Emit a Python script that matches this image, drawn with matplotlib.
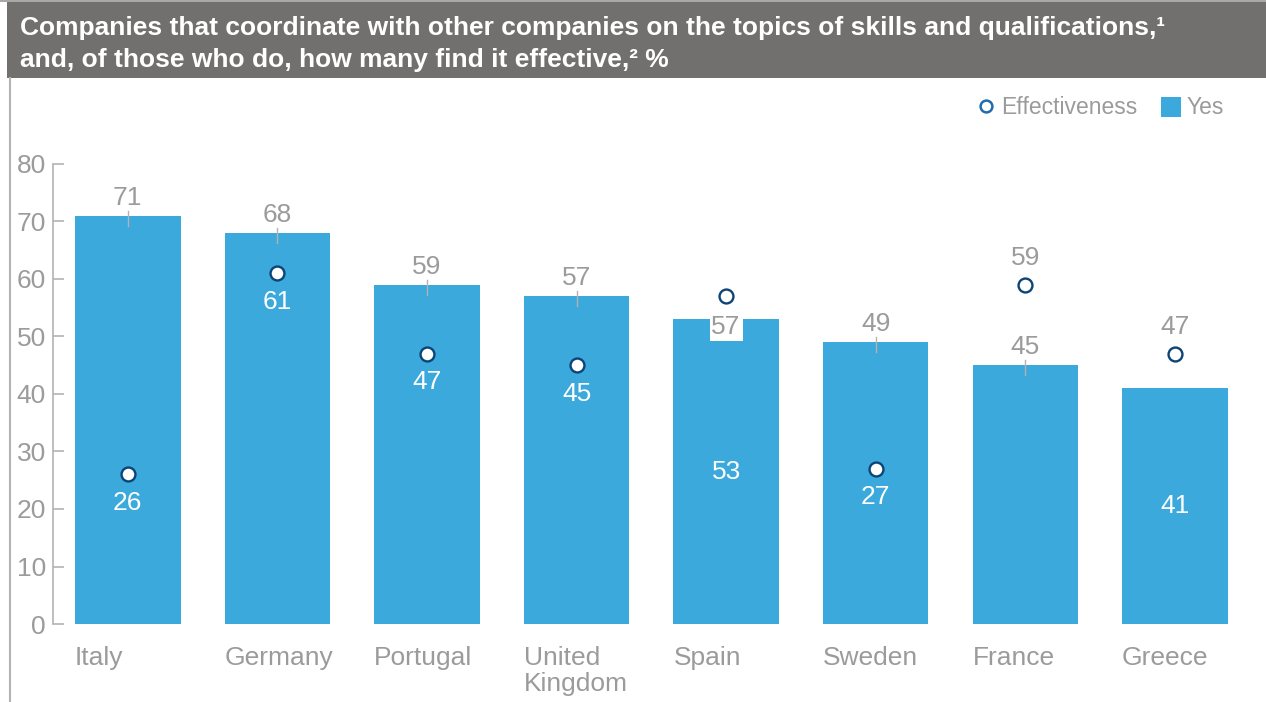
import matplotlib
matplotlib.use("Agg")
import matplotlib.pyplot as plt
from matplotlib.patches import Rectangle, Patch
from matplotlib.lines import Line2D

plt.rcParams['font.family'] = ['Liberation Sans', 'DejaVu Sans']

countries = ["Italy", "Germany", "Portugal", "United\nKingdom", "Spain", "Sweden", "France", "Greece"]
yes_pct = [71, 68, 59, 57, 53, 49, 45, 41]
effectiveness = [26, 61, 47, 45, 57, 27, 59, 47]

# where each label goes (style, not data)
bar_label_pos = ["above", "above", "above", "above", "inside", "above", "above", "inside"]
eff_label_pos = ["below", "below", "below", "below", "boxed", "below", "above", "above"]

BLUE = "#3ba9dc"
NAVY = "#0d4476"
GRAY = "#9b9b9b"
LINE = "#b3b3b3"
W, H = 1266, 702

fig = plt.figure(figsize=(W / 100, H / 100), dpi=100)

# header band
fig.patches.append(Rectangle((7 / W, 1 - 78 / H), 1, 76 / H, transform=fig.transFigure,
                             facecolor="#72706e", edgecolor="none"))
fig.patches.append(Rectangle((0, 1 - 2 / H), 1, 2 / H, transform=fig.transFigure,
                             facecolor="#a8a8a8", edgecolor="none"))
fig.text(20 / W, 1 - 28 / H, "Companies that coordinate with other companies on the topics of skills and qualifications,\u00b9",
         color="white", weight="bold", fontsize=19, va="center", ha="left")
fig.text(20 / W, 1 - 60 / H, "and, of those who do, how many find it effective,\u00b2 %",
         color="white", weight="bold", fontsize=19, va="center", ha="left")
fig.add_artist(Line2D([10 / W, 10 / W], [0, 1 - 78 / H], transform=fig.transFigure,
                      color=LINE, lw=1.5))

ax = fig.add_axes([53 / W, 1 - 624 / H, 1196.6 / W, 460 / H])
x = list(range(len(countries)))
ax.bar(x, yes_pct, width=0.705, color=BLUE, zorder=2)
ax.plot(x, effectiveness, linestyle="none", marker="o", markersize=10,
        markerfacecolor="white", markeredgecolor=NAVY, markeredgewidth=1.7, zorder=4, clip_on=False)

ax.set_xlim(-0.5, 7.5)
ax.set_ylim(0, 80)
ax.set_yticks(range(0, 81, 10))
ax.set_xticks([])
for s in ["top", "right", "bottom"]:
    ax.spines[s].set_visible(False)
ax.spines["left"].set_color(LINE)
ax.spines["left"].set_linewidth(1.2)
ax.tick_params(axis="y", direction="in", length=8, width=1.2, color=LINE,
               labelcolor=GRAY, labelsize=19, pad=5)

fs = 19
for i, (name, v, e) in enumerate(zip(countries, yes_pct, effectiveness)):
    ax.text(i - 0.3525, -3.9, name, ha="left", va="top", color=GRAY, fontsize=fs, linespacing=1.07)

    if bar_label_pos[i] == "above":
        ax.plot([i, i], [v - 1.75, v + 0.9], color=LINE, lw=1, zorder=3, clip_on=False)
        ax.annotate(str(v), (i, v), xytext=(0, 13), textcoords="offset points",
                    ha="center", va="center", color=GRAY, fontsize=fs, annotation_clip=False)
    else:
        ax.text(i, v / 2, str(v), ha="center", va="center", color="white", fontsize=fs, zorder=3)

    if eff_label_pos[i] == "above":
        ax.annotate(str(e), (i, e), xytext=(0, 19), textcoords="offset points",
                    ha="center", va="center", color=GRAY, fontsize=fs, annotation_clip=False)
    elif eff_label_pos[i] == "boxed":
        ax.annotate(str(e), (i, e), xytext=(0, -22.5), textcoords="offset points",
                    ha="center", va="center", color=GRAY, fontsize=fs, zorder=5,
                    bbox=dict(boxstyle="square,pad=0.07", facecolor="white", edgecolor="none"))
    else:
        ax.annotate(str(e), (i, e), xytext=(0, -20.5), textcoords="offset points",
                    ha="center", va="center", color="white", fontsize=fs, zorder=5)

handles = [Line2D([], [], linestyle="none", marker="o", markersize=8.5, markerfacecolor="white",
                  markeredgecolor="#1f6db0", markeredgewidth=1.8),
           Patch(facecolor=BLUE, edgecolor="none")]
fig.legend(handles, ["Effectiveness", "Yes"], loc="center right",
           bbox_to_anchor=(1224 / W, 1 - 108 / H), ncol=2, frameon=False,
           fontsize=16.5, labelcolor=GRAY, handlelength=0.85, handleheight=0.95,
           handletextpad=0.25, columnspacing=1.05, borderpad=0, borderaxespad=0)

fig.savefig("out.png", dpi=100)
